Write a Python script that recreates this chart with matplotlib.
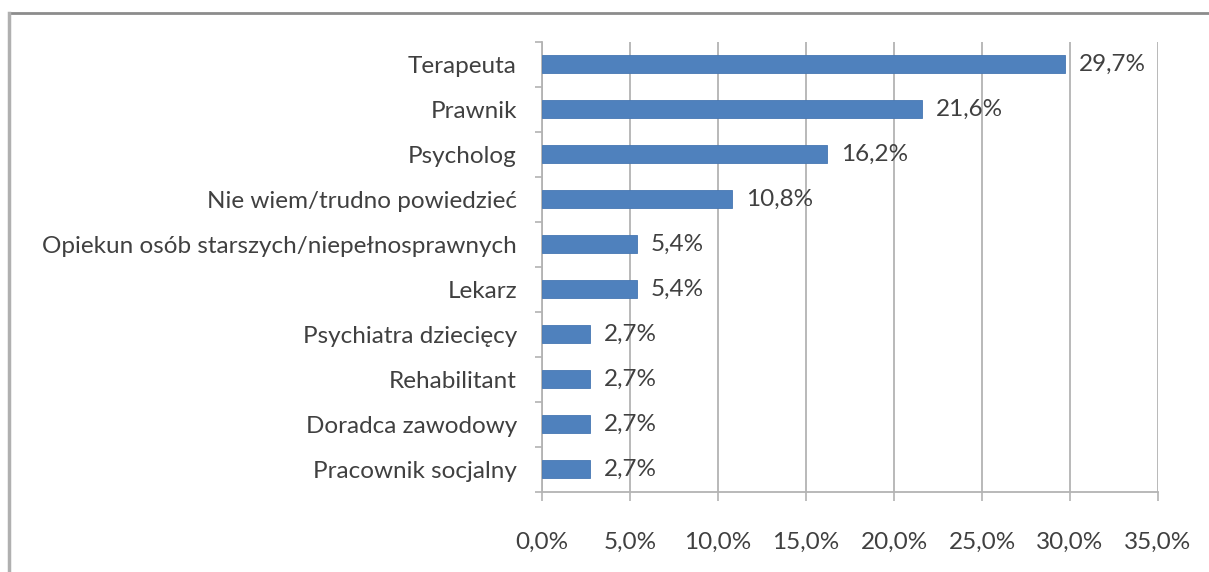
import matplotlib.pyplot as plt
from matplotlib.lines import Line2D
from matplotlib.ticker import FuncFormatter
import numpy as np

plt.rcParams['font.family'] = ['Lato', 'DejaVu Sans']

# data
categories = ["Terapeuta", "Prawnik", "Psycholog", "Nie wiem/trudno powiedzieć",
              "Opiekun osób starszych/niepełnosprawnych", "Lekarz",
              "Psychiatra dziecięcy", "Rehabilitant", "Doradca zawodowy",
              "Pracownik socjalny"]
values = [29.7, 21.6, 16.2, 10.8, 5.4, 5.4, 2.7, 2.7, 2.7, 2.7]
xticks = [0, 5, 10, 15, 20, 25, 30, 35]

txt = "#404040"
grid = "#b3b3b3"
fs = 17.5

fig = plt.figure(figsize=(12.09, 5.72), dpi=100)
ax = fig.add_axes([542 / 1209, 1 - 492 / 572, 616 / 1209, 450 / 572])

y = np.arange(len(categories))
ax.barh(y, values, height=0.4, color="#4F81BD", edgecolor="#4677b3", linewidth=0.6, zorder=3)
for yi, v in zip(y, values):
    ax.annotate(f"{v:.1f}%".replace(".", ","), (v, yi), xytext=(10, 0),
                textcoords="offset points", va="center", ha="left",
                fontsize=fs, color=txt, zorder=4)

ax.set_ylim(len(categories) - 0.5, -0.5)
ax.set_xlim(0, 35)
ax.set_yticks(y)
ax.set_yticklabels(categories)
ax.set_yticks(np.arange(-0.5, len(categories)), minor=True)
ax.set_xticks(xticks)
ax.xaxis.set_major_formatter(FuncFormatter(lambda v, p: f"{v:.1f}%".replace(".", ",")))

ax.tick_params(axis="y", which="major", length=0, pad=18, labelsize=fs, labelcolor=txt)
ax.tick_params(axis="y", which="minor", length=5, width=1.2, color=grid)
ax.tick_params(axis="x", which="major", length=6.5, width=1.2, color=grid,
               pad=22, labelsize=fs, labelcolor=txt)

ax.grid(axis="x", color=grid, linewidth=1.3, zorder=0)
for s in ["top", "right"]:
    ax.spines[s].set_visible(False)
for s in ["left", "bottom"]:
    ax.spines[s].set_color(grid)
    ax.spines[s].set_linewidth(1.3)

# outer frame
fig.add_artist(Line2D([9 / 1209, 1], [1 - 12.5 / 572, 1 - 12.5 / 572],
                      transform=fig.transFigure, color="#8c8c8c", linewidth=2))
fig.add_artist(Line2D([9 / 1209, 9 / 1209], [0, 1 - 12.5 / 572],
                      transform=fig.transFigure, color="#b0b0b0", linewidth=2.5))

fig.savefig("out.png", dpi=100)
